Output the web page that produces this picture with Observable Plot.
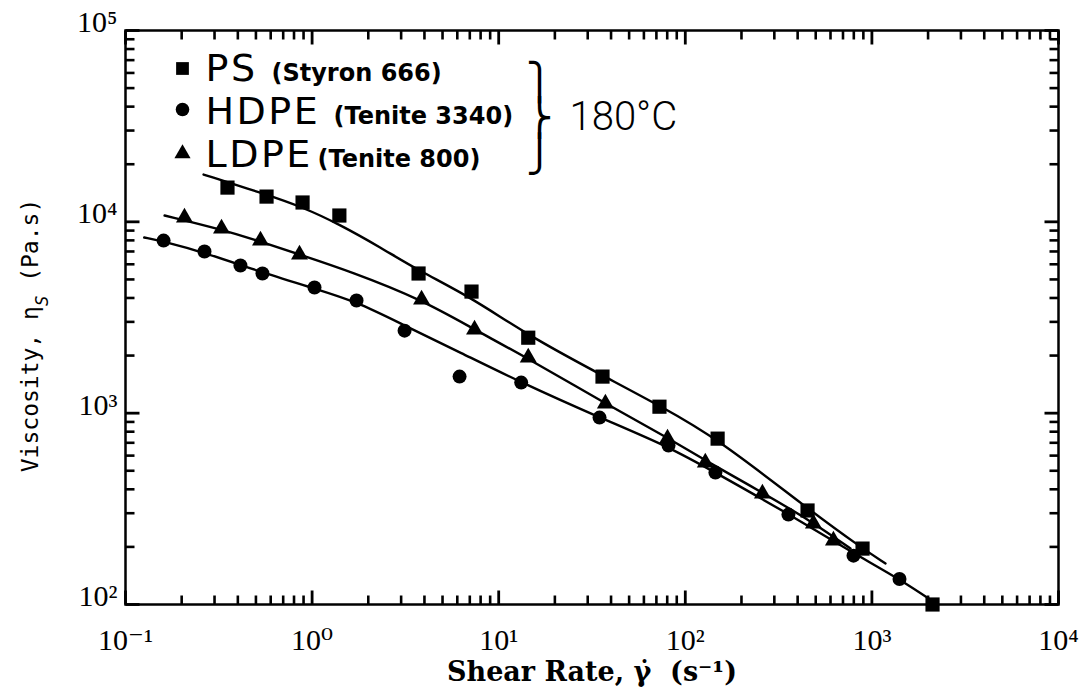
<!DOCTYPE html>
<html><head><meta charset="utf-8">
<script src="https://cdn.jsdelivr.net/npm/d3@7"></script>
<script src="https://cdn.jsdelivr.net/npm/@observablehq/plot@0.6"></script>
<style>
body{margin:0;background:#fff}
g[font-size="38"] text{letter-spacing:2.5px}
</style></head><body><div id="chart"></div>
<script>
// ---- measured data (shear rate 1/s, viscosity Pa.s) ----
const psX = [0.352, 0.570, 0.889, 1.40, 3.72, 7.15, 14.4, 36.0, 72.7, 149, 452, 891, 2113];
const psY = [15100, 13550, 12620, 10790, 5370, 4320, 2480, 1553, 1081, 736, 310, 196, 100];
const hdpeX = [0.160, 0.265, 0.413, 0.542, 1.03, 1.73, 3.13, 6.17, 13.2, 34.7, 81.3, 145, 357, 797, 1406];
const hdpeY = [7980, 6995, 5910, 5370, 4535, 3880, 2700, 1553, 1445, 948, 677, 489, 295, 180, 136];
const ldpeX = [0.207, 0.327, 0.529, 0.856, 3.86, 7.42, 14.4, 37.3, 80.3, 128, 259, 486, 622];
const ldpeY = [10530, 9226, 7980, 6745, 3925, 2735, 1953, 1122, 736, 552, 380, 265, 216];
// fitted curves (smoothed)
const psFitX = [0.262, 0.549, 0.900, 1.40, 2.33, 3.72, 7.15, 14.4, 36.0, 72.7, 149, 452, 891, 1183];
const psFitY = [17670, 14060, 11880, 9700, 7340, 5560, 4020, 2545, 1573, 1096, 736, 317, 196, 164];
const ldpeFitX = [0.162, 0.327, 0.529, 0.856, 1.61, 3.86, 7.42, 14.4, 37.3, 80.3, 128, 259, 486, 768];
const ldpeFitY = [10790, 9120, 7890, 6745, 5500, 3925, 2735, 1930, 1122, 745, 565, 385, 268, 196];
const hdpeFitX = [0.126, 0.160, 0.265, 0.542, 1.03, 1.73, 3.13, 6.24, 13.2, 34.7, 81.3, 145, 357, 797, 1406, 2250];
const hdpeFitY = [8280, 7890, 6910, 5430, 4480, 3830, 2870, 2074, 1445, 948, 669, 489, 298, 185, 136, 100];
// axes
const xTickValues = [0.1, 1, 10, 100, 1000, 10000];
const xTickLabels = ["10⁻¹", "10⁰", "10¹", "10²", "10³", "10⁴"];
const yTickValues = [100, 1000, 10000, 100000];
const yTickLabels = ["10²", "10³", "10⁴", "10⁵"];
const legendNames = ["PS", "HDPE", "LDPE"];
const legendSubs = ["(Styron 666)", "(Tenite 3340)", "(Tenite 800)"];
const legendSymbols = ["square", "circle", "triangle"];
const xTitle = "Shear Rate, γ̇  (s⁻¹)";
const yTitleHead = "Viscosity, η", yTitleSub = "S", yTitleTail = " (Pa.s)";
const yTitle = yTitleHead + yTitleSub + yTitleTail;
const tempLabel = "180°C";

const W = 1086, H = 698, mL = 125, mR = 28, mT = 30, mB = 94;
const plotW = W - mL - mR, plotH = H - mT - mB;
const xDec = plotW / 5, yDec = plotH / 3; // pixels per decade

const pts = (xs, ys) => xs.map((x, i) => ({x, y: ys[i]}));
const ps = pts(psX, psY), hdpe = pts(hdpeX, hdpeY), ldpe = pts(ldpeX, ldpeY);
const psFit = pts(psFitX, psFitY), hdpeFit = pts(hdpeFitX, hdpeFitY), ldpeFit = pts(ldpeFitX, ldpeFitY);

const minor = (lo, hi) => { const a = []; for (let e = lo; e < hi; e++) for (let m = 2; m <= 9; m++) a.push(m * 10 ** e); return a; };
const xMinor = minor(-1, 4), yMinor = minor(2, 5);
const xLo = 0.1, xHi = 10000, yLo = 100, yHi = 100000;
const fy = px => 10 ** (px / yDec), fx = px => 10 ** (px / xDec);

const xFmt = d => xTickLabels[xTickValues.indexOf(d)];
const yFmt = d => yTickLabels[yTickValues.indexOf(d)];

const legendDy = [38, 79, 123];
const legendBase = [50, 93, 136];
const subDx = [146, 208, 192];

// inward ticks on all four sides (short links through the log scales)
const tickMarks = (len, data, w) => [
  Plot.link(data, {x1: d => d, x2: d => d, y1: () => yLo, y2: () => yLo * fy(len), stroke: "black", strokeWidth: w}),
  Plot.link(data, {x1: d => d, x2: d => d, y1: () => yHi / fy(len), y2: () => yHi, stroke: "black", strokeWidth: w})
];
const tickMarksY = (len, data, w) => [
  Plot.link(data, {y1: d => d, y2: d => d, x1: () => xLo, x2: () => xLo * fx(len), stroke: "black", strokeWidth: w}),
  Plot.link(data, {y1: d => d, y2: d => d, x1: () => xHi / fx(len), x2: () => xHi, stroke: "black", strokeWidth: w})
];

const marks = [
  Plot.frame({stroke: "black", strokeWidth: 2.5}),
  ...tickMarks(9, xMinor, 2.6), ...tickMarks(14, xTickValues, 2.8),
  ...tickMarksY(9, yMinor, 2.6), ...tickMarksY(14, yTickValues, 2.8),
  Plot.axisX(xTickValues, {anchor: "bottom", tickSize: 0, tickPadding: 24, tickFormat: xFmt, fontSize: 30, fontFamily: "Liberation Serif, DejaVu Serif, serif", label: null}),
  Plot.axisY(yTickValues, {anchor: "left", tickSize: 0, tickPadding: 8, dy: -8, tickFormat: yFmt, fontSize: 30, fontFamily: "Liberation Serif, DejaVu Serif, serif", label: null}),
  // curves
  Plot.line(psFit, {x: "x", y: "y", curve: "basis", stroke: "black", strokeWidth: 2.4}),
  Plot.line(ldpeFit, {x: "x", y: "y", curve: "basis", stroke: "black", strokeWidth: 2.4}),
  Plot.line(hdpeFit, {x: "x", y: "y", curve: "basis", stroke: "black", strokeWidth: 2.4}),
  // points
  Plot.dot(ps, {x: "x", y: "y", symbol: "square", r: 8, fill: "black"}),
  Plot.dot(hdpe, {x: "x", y: "y", symbol: "circle", r: 7, fill: "black"}),
  Plot.dot(ldpe, {x: "x", y: "y", symbol: "triangle", r: 6.3, fill: "black"}),
  // axis titles
  Plot.text([xTitle], {frameAnchor: "bottom", dy: 76, lineAnchor: "bottom", text: d => d, fontSize: 27, fontWeight: "bold", fontFamily: "DejaVu Serif, serif"}),
  Plot.text([yTitle], {frameAnchor: "left", textAnchor: "middle", lineAnchor: "middle", rotate: -90, dx: -95, dy: 18, text: d => d, fontSize: 23, fontFamily: "DejaVu Sans Mono, monospace"}),
  // brace + temperature
  Plot.text(["⎫\n⎬\n⎭"], {frameAnchor: "top-left", textAnchor: "middle", dx: 414, dy: 88, lineAnchor: "middle", lineHeight: 1, text: d => d, fontSize: 36, fontFamily: "DejaVu Sans"}),
  Plot.text([tempLabel], {frameAnchor: "top-left", dx: 444, dy: 99, lineAnchor: "bottom", textAnchor: "start", text: d => d, fontSize: 40, fontWeight: 300, fontFamily: "Roboto, DejaVu Sans"})
];
legendNames.forEach((name, i) => {
  marks.push(Plot.dot([0], {frameAnchor: "top-left", dx: 57, dy: legendDy[i], symbol: legendSymbols[i], r: legendSymbols[i] === "triangle" ? 6 : (legendSymbols[i] === "square" ? 7.2 : 6.8), fill: "black"}));
  marks.push(Plot.text([name], {frameAnchor: "top-left", dx: 80, dy: legendBase[i], lineAnchor: "bottom", textAnchor: "start", text: d => d, fontSize: 38, fontFamily: "DejaVu Sans"}));
  marks.push(Plot.text([legendSubs[i]], {frameAnchor: "top-left", dx: subDx[i], dy: legendBase[i], lineAnchor: "bottom", textAnchor: "start", text: d => d, fontSize: 24, fontWeight: "bold", fontFamily: "DejaVu Sans"}));
});

const chart = Plot.plot({
  width: W, height: H,
  marginLeft: mL, marginRight: mR, marginTop: mT, marginBottom: mB,
  style: {background: "white", color: "black"},
  x: {type: "log", domain: [xLo, xHi], label: null},
  y: {type: "log", domain: [yLo, yHi], label: null},
  marks
});
// subscript S in the y title
d3.select(chart).selectAll("text").filter(function () { return this.textContent === yTitle; })
  .each(function () {
    const t = d3.select(this).text(null);
    t.append("tspan").text(yTitleHead);
    t.append("tspan").attr("baseline-shift", "sub").attr("font-size", "75%").attr("font-style", "italic").text(yTitleSub);
    t.append("tspan").text(yTitleTail);
  });
document.getElementById("chart").appendChild(chart);
</script></body></html>
